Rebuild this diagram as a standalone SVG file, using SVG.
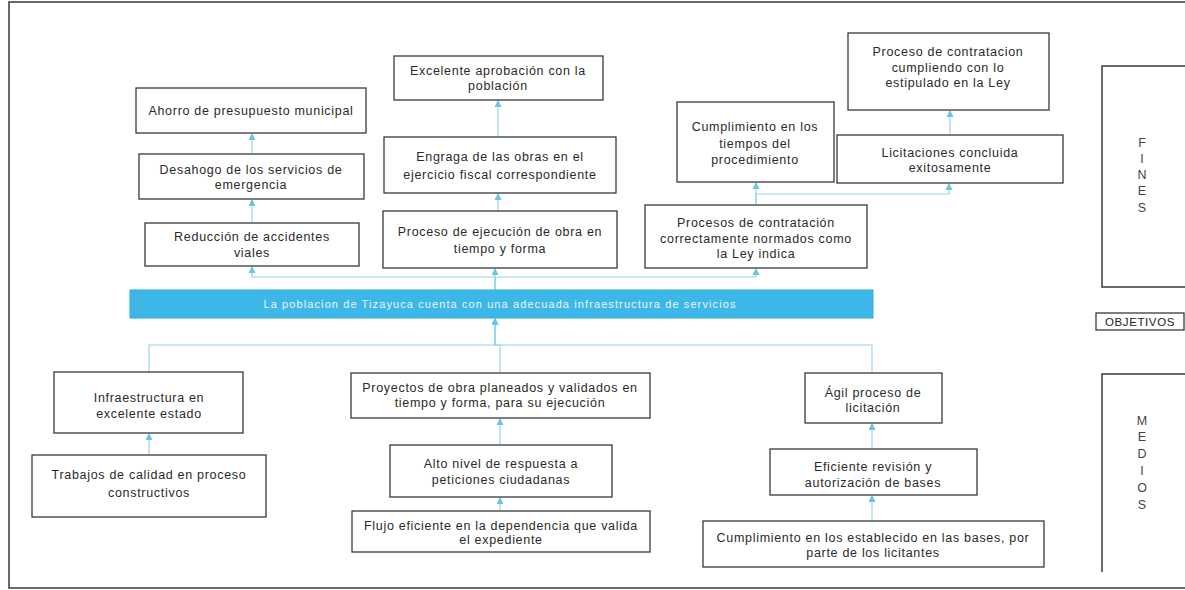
<svg xmlns="http://www.w3.org/2000/svg" width="1185" height="590" viewBox="0 0 1185 590">
<style>
.box{fill:#fff;stroke:#3a3a3a;stroke-width:1.3}
.t{font-family:"Liberation Sans",Arial,sans-serif;font-size:12.5px;letter-spacing:0.7px;fill:#2a2a2a;text-anchor:middle}
.c{fill:none;stroke:#8fd3ea;stroke-width:1.1}
.side{font-family:"Liberation Sans",Arial,sans-serif;font-size:12.5px;fill:#444;text-anchor:middle}
.frame{fill:none;stroke:#3a3a3a;stroke-width:1.5}
</style>
<defs>
<marker id="ah" markerWidth="7" markerHeight="7" refX="6" refY="3.5" orient="auto" markerUnits="userSpaceOnUse">
<path d="M0,0 L7,3.5 L0,7 z" fill="#6cc4e4"/>
</marker>
</defs>
<rect width="1185" height="590" fill="#fff"/>
<g id="frame">
<path class="frame" d="M1185,2 H9 V588 H1185"/>
</g>
<g id="connectors">
<path class="c" marker-end="url(#ah)" d="M495,290 V277 H252 V267"/>
<path class="c" marker-end="url(#ah)" d="M495,290 V269"/>
<path class="c" marker-end="url(#ah)" d="M495,290 V277 H756 V269"/>
<path class="c" marker-end="url(#ah)" d="M252,223 V200"/>
<path class="c" marker-end="url(#ah)" d="M252,154 V134"/>
<path class="c" marker-end="url(#ah)" d="M498,211 V194"/>
<path class="c" marker-end="url(#ah)" d="M498,137 V101"/>
<path class="c" marker-end="url(#ah)" d="M756,205 V183"/>
<path class="c" marker-end="url(#ah)" d="M756,205 V194 H949 V184"/>
<path class="c" marker-end="url(#ah)" d="M950,135 V111"/>
<path class="c" marker-end="url(#ah)" d="M149,372 V345 H495 V319"/>
<path class="c" marker-end="url(#ah)" d="M500,373 V345 H495 V319"/>
<path class="c" marker-end="url(#ah)" d="M872,373 V345 H495 V319"/>
<path class="c" marker-end="url(#ah)" d="M149,455 V434"/>
<path class="c" marker-end="url(#ah)" d="M500,445 V419"/>
<path class="c" marker-end="url(#ah)" d="M500,511 V498"/>
<path class="c" marker-end="url(#ah)" d="M872,449 V424"/>
<path class="c" marker-end="url(#ah)" d="M872,521 V496"/>
</g>
<g id="n-ahorro"><rect class="box" x="136" y="88" width="230" height="45"/><text class="t" x="251" y="115">Ahorro de presupuesto municipal</text></g>
<g id="n-desahogo"><rect class="box" x="139" y="154" width="225" height="45"/><text class="t" x="251" y="174">Desahogo de los servicios de</text><text class="t" x="251" y="189">emergencia</text></g>
<g id="n-reduccion"><rect class="box" x="145" y="223" width="214" height="43"/><text class="t" x="252" y="241">Reducción de accidentes</text><text class="t" x="252" y="257">viales</text></g>
<g id="n-excelente"><rect class="box" x="394" y="56" width="209" height="44"/><text class="t" x="498" y="75">Excelente aprobación con la</text><text class="t" x="498" y="90">población</text></g>
<g id="n-engraga"><rect class="box" x="384" y="137" width="232" height="56"/><text class="t" x="500" y="161">Engraga de las obras en el</text><text class="t" x="500" y="179">ejercicio fiscal correspondiente</text></g>
<g id="n-ejecucion"><rect class="box" x="383" y="211" width="234" height="57"/><text class="t" x="500" y="236">Proceso de ejecución de obra en</text><text class="t" x="500" y="253">tiempo y forma</text></g>
<g id="n-contratacion-ley"><rect class="box" x="848" y="33" width="201" height="77"/><text class="t" x="948" y="56">Proceso de contratacion</text><text class="t" x="948" y="72">cumpliendo con lo</text><text class="t" x="948" y="87">estipulado en la Ley</text></g>
<g id="n-cumplimiento-tiempos"><rect class="box" x="677" y="102" width="157" height="80"/><text class="t" x="755" y="131">Cumplimiento en los</text><text class="t" x="755" y="148">tiempos del</text><text class="t" x="755" y="164">procedimiento</text></g>
<g id="n-licitaciones"><rect class="box" x="837" y="135" width="226" height="48"/><text class="t" x="950" y="157">Licitaciones concluida</text><text class="t" x="950" y="172">exitosamente</text></g>
<g id="n-procesos-normados"><rect class="box" x="645" y="205" width="222" height="63"/><text class="t" x="756" y="227">Procesos de contratación</text><text class="t" x="756" y="243">correctamente normados como</text><text class="t" x="756" y="258">la Ley indica</text></g>
<g id="n-objetivo"><rect x="130" y="290" width="743" height="28" fill="#3db7e8" stroke="#35a9d8" stroke-width="1"/><text x="500" y="308" font-family="'Liberation Sans',Arial,sans-serif" font-size="11" letter-spacing="1.1" fill="#e6f6fc" text-anchor="middle">La poblacion de Tizayuca cuenta con una adecuada infraestructura de servicios</text></g>
<g id="n-infraestructura"><rect class="box" x="54" y="372" width="189" height="61"/><text class="t" x="149" y="402">Infraestructura en</text><text class="t" x="149" y="418">excelente estado</text></g>
<g id="n-trabajos"><rect class="box" x="32" y="455" width="234" height="62"/><text class="t" x="149" y="479">Trabajos de calidad en proceso</text><text class="t" x="149" y="497">constructivos</text></g>
<g id="n-proyectos"><rect class="box" x="351" y="373" width="299" height="45"/><text class="t" x="500" y="392">Proyectos de obra planeados y validados en</text><text class="t" x="500" y="407">tiempo y forma, para su ejecución</text></g>
<g id="n-alto"><rect class="box" x="390" y="445" width="222" height="52"/><text class="t" x="501" y="468">Alto nivel de respuesta a</text><text class="t" x="501" y="484">peticiones ciudadanas</text></g>
<g id="n-flujo"><rect class="box" x="352" y="511" width="298" height="41"/><text class="t" x="501" y="530">Flujo eficiente en la dependencia que valida</text><text class="t" x="501" y="544">el expediente</text></g>
<g id="n-agil"><rect class="box" x="805" y="373" width="137" height="50"/><text class="t" x="873" y="397">Ágil proceso de</text><text class="t" x="873" y="412">licitación</text></g>
<g id="n-eficiente"><rect class="box" x="770" y="449" width="207" height="46"/><text class="t" x="873" y="471">Eficiente revisión y</text><text class="t" x="873" y="487">autorización de bases</text></g>
<g id="n-cumplimiento-bases"><rect class="box" x="703" y="521" width="341" height="46"/><text class="t" x="873" y="542">Cumplimiento en los establecido en las bases, por</text><text class="t" x="873" y="557">parte de los licitantes</text></g>
<g id="fines"><path class="frame" d="M1185,66 H1102 V287 H1185"/><text class="side" x="1142" y="147">F</text><text class="side" x="1142" y="163">I</text><text class="side" x="1142" y="179">N</text><text class="side" x="1142" y="195">E</text><text class="side" x="1142" y="212">S</text></g>
<g id="objetivos"><rect x="1096" y="313" width="88" height="17" fill="#fff" stroke="#3a3a3a" stroke-width="1.3"/><text x="1140" y="326" font-family="'Liberation Sans',Arial,sans-serif" font-size="11.5" letter-spacing="0.6" fill="#222" text-anchor="middle">OBJETIVOS</text></g>
<g id="medios"><path class="frame" d="M1185,374 H1102 V572"/><text class="side" x="1142" y="425">M</text><text class="side" x="1142" y="441">E</text><text class="side" x="1142" y="458">D</text><text class="side" x="1142" y="475">I</text><text class="side" x="1142" y="492">O</text><text class="side" x="1142" y="509">S</text></g>
</svg>
